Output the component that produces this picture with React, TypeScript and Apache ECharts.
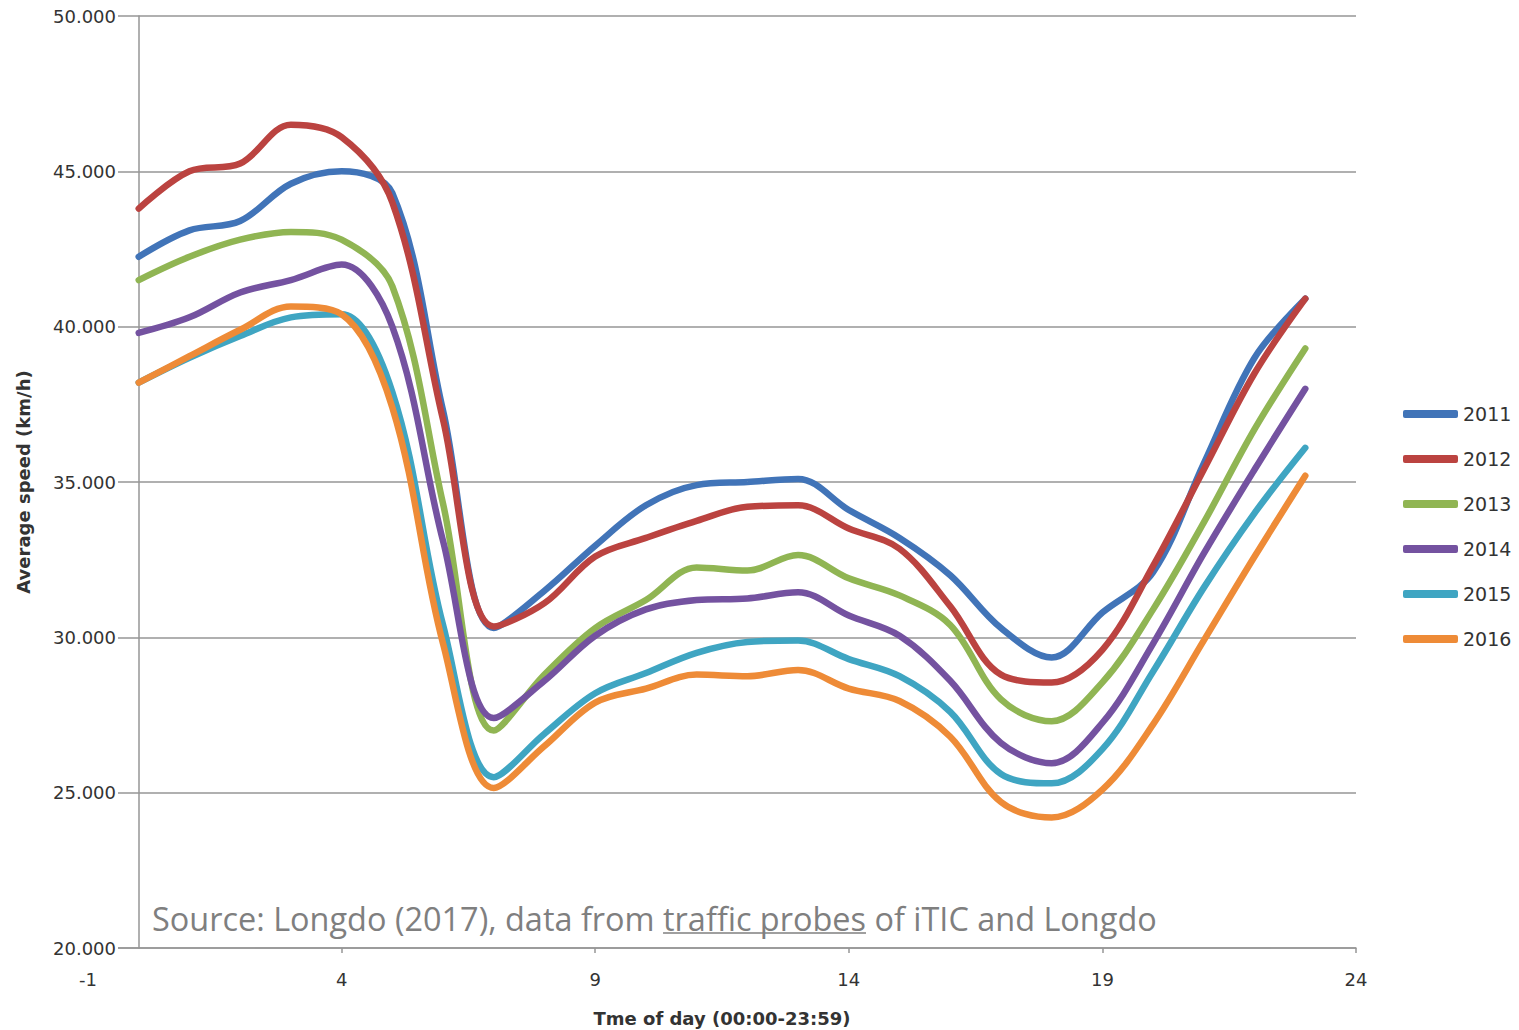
import { useEffect, useRef } from "react";
import * as echarts from "echarts";

const hours = [0, 1, 2, 3, 4, 5, 6, 7, 8, 9, 10, 11, 12, 13, 14, 15, 16, 17, 18, 19, 20, 21, 22, 23];
const years = ["2011", "2012", "2013", "2014", "2015", "2016"];

const speed2011 = [42.25, 43.1, 43.4, 44.6, 45.0, 44.3, 37.3, 30.3, 31.5, 32.95, 34.25, 34.9, 35.0, 35.1, 34.1, 33.2, 32.0, 30.3, 29.35, 30.8, 32.1, 35.6, 39.0, 40.9];
const speed2012 = [43.8, 45.0, 45.25, 46.5, 46.1, 44.0, 37.0, 30.35, 31.1, 32.6, 33.2, 33.75, 34.2, 34.25, 33.5, 32.85, 31.0, 28.8, 28.55, 29.6, 32.3, 35.4, 38.5, 40.9];
const speed2013 = [41.5, 42.25, 42.8, 43.05, 42.8, 41.3, 34.3, 27.0, 28.8, 30.3, 31.2, 32.25, 32.15, 32.65, 31.9, 31.35, 30.4, 28.0, 27.3, 28.55, 30.9, 33.7, 36.7, 39.3];
const speed2014 = [39.8, 40.3, 41.1, 41.5, 42.0, 40.0, 33.1, 27.4, 28.6, 30.05, 30.9, 31.2, 31.25, 31.45, 30.7, 30.05, 28.6, 26.6, 25.95, 27.25, 29.8, 32.7, 35.4, 38.0];
const speed2015 = [38.2, 39.0, 39.7, 40.3, 40.4, 37.9, 30.4, 25.5, 26.9, 28.2, 28.85, 29.5, 29.85, 29.9, 29.3, 28.75, 27.6, 25.6, 25.3, 26.4, 28.9, 31.6, 34.0, 36.1];
const speed2016 = [38.2, 39.05, 39.9, 40.65, 40.4, 37.4, 29.8, 25.15, 26.5, 27.9, 28.35, 28.8, 28.75, 28.95, 28.35, 27.95, 26.8, 24.7, 24.2, 25.1, 27.2, 29.9, 32.6, 35.2];

const seriesValues = [speed2011, speed2012, speed2013, speed2014, speed2015, speed2016];
const lineColors = ["#4174b8", "#bb4340", "#90b553", "#7452a0", "#3fa5c2", "#ee8b37"];

const xTitle = "Tme of day (00:00-23:59)";
const yTitle = "Average speed (km/h)";
const srcA = "Source: Longdo (2017), data from ";
const srcB = "traffic probes";
const srcC = " of iTIC and Longdo";

export default function App() {
  const ref = useRef<HTMLDivElement>(null);

  useEffect(() => {
    if (!ref.current) return;
    const chart = echarts.init(ref.current, null, { renderer: "svg" });

    const fam = '"Open Sans"';
    const ctx = document.createElement("canvas").getContext("2d")!;
    ctx.font = `100px ${fam}`;
    const full = ctx.measureText(srcA + srcB + srcC).width;
    const fs = (100 * 1005) / full;
    ctx.font = `${fs}px ${fam}`;
    const wA = ctx.measureText(srcA).width;
    const wB = ctx.measureText(srcB).width;
    const srcX = 152;

    const axisColor = "#969696";
    const textColor = "#333333";

    chart.setOption({
      animation: false,
      backgroundColor: "#ffffff",
      grid: { left: 88, right: 163, top: 16, bottom: 82, outerBoundsMode: "none" },
      legend: {
        data: years,
        orient: "vertical",
        left: 1398,
        top: 399,
        itemWidth: 55,
        itemHeight: 8,
        itemGap: 25,
        icon: "roundRect",
        textStyle: { fontSize: 19, color: textColor, fontFamily: "DejaVu Sans", lineHeight: 20 },
      },
      xAxis: {
        type: "value",
        min: -1,
        max: 24,
        interval: 5,
        name: xTitle,
        nameLocation: "middle",
        nameGap: 61,
        nameTextStyle: { fontWeight: "bold", fontSize: 18, color: textColor, fontFamily: "DejaVu Sans" },
        axisLine: { lineStyle: { color: axisColor, width: 1.5 } },
        axisTick: { show: true, length: 5, lineStyle: { color: axisColor, width: 1.5 } },
        axisLabel: { fontSize: 18, color: textColor, margin: 22, fontFamily: "DejaVu Sans" },
        splitLine: { show: false },
      },
      yAxis: {
        type: "value",
        min: 20,
        max: 50,
        interval: 5,
        name: yTitle,
        nameLocation: "middle",
        nameGap: 56,
        nameRotate: 90,
        nameTextStyle: { fontWeight: "bold", fontSize: 18, color: textColor, fontFamily: "DejaVu Sans" },
        axisLine: { show: true, onZero: true, lineStyle: { color: axisColor, width: 1.5 } },
        axisTick: { show: false },
        axisLabel: {
          fontSize: 18,
          color: textColor,
          margin: -30,
          fontFamily: "DejaVu Sans",
          backgroundColor: "#ffffff",
          padding: [1, 2],
          formatter: (v: number) => v.toFixed(3),
        },
        splitLine: { show: true, lineStyle: { color: axisColor, width: 1.5 } },
      },
      graphic: [
        {
          type: "text",
          x: srcX,
          y: 918,
          z: 10,
          style: {
            text: srcA + srcB + srcC,
            fontSize: fs,
            fontFamily: "Open Sans",
            fill: "#7f7f7f",
            verticalAlign: "middle",
            align: "left",
          },
        },
        {
          type: "line",
          z: 10,
          shape: { x1: srcX + wA, y1: 933, x2: srcX + wA + wB, y2: 933 },
          style: { stroke: "#7f7f7f", lineWidth: 1.5 },
        },
      ],
      series: years.map((y, i) => ({
        name: y,
        type: "line",
        smooth: 0.35,
        showSymbol: false,
        symbol: "none",
        color: lineColors[i],
        lineStyle: { width: 6.5, color: lineColors[i], cap: "round" },
        data: hours.map((h, j) => [h, seriesValues[i][j]]),
      })),
    });

    return () => chart.dispose();
  }, []);

  return (
    <div
      ref={ref}
      style={{ position: "absolute", left: 0, top: 0, width: 1519, height: 1030 }}
    />
  );
}
